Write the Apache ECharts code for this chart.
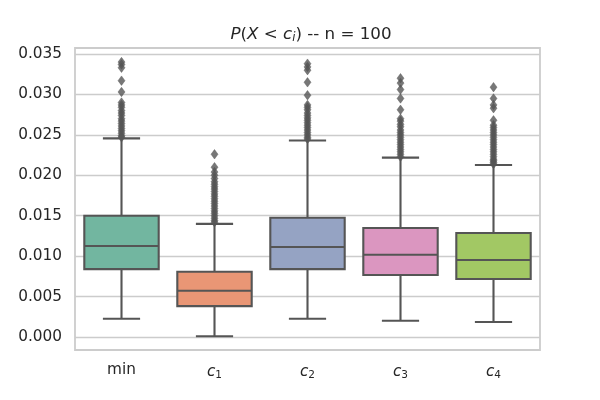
<!DOCTYPE html>
<html><head><meta charset="utf-8">
<script src="https://cdn.jsdelivr.net/npm/echarts@6/dist/echarts.min.js"></script>
<style>html,body{margin:0;padding:0;background:#fff}#c{width:600px;height:400px}</style>
</head><body><div id="c"></div>
<script>
const categories = ['min', 'c1', 'c2', 'c3', 'c4'];
const categoryLabels = ['min', '{i|c}{s|1}', '{i|c}{s|2}', '{i|c}{s|3}', '{i|c}{s|4}'];
const lowerWhisker = [0.00226, 0.00010, 0.00226, 0.00202, 0.00186];
const q1 = [0.00840, 0.00383, 0.00840, 0.00767, 0.00717];
const median = [0.01125, 0.00573, 0.01113, 0.01018, 0.00952];
const q3 = [0.01500, 0.00808, 0.01476, 0.01348, 0.01286];
const upperWhisker = [0.02457, 0.01400, 0.02430, 0.02218, 0.02127];
const boxColors = ['#72b6a0', '#e99675', '#95a3c3', '#db96c0', '#a2c864'];
const outliersMin = [0.0340, 0.0337, 0.0333, 0.0317, 0.0303, 0.0290, 0.0287, 0.0284, 0.0280, 0.0277, 0.0274, 0.0270, 0.0267, 0.0264, 0.0261, 0.0258, 0.0255, 0.0252, 0.0249, 0.0247];
const outliersC1 = [0.0226, 0.0210, 0.0204, 0.0200, 0.0196, 0.0192, 0.0189, 0.0186, 0.0183, 0.0180, 0.0177, 0.0174, 0.0171, 0.0168, 0.0165, 0.0162, 0.0159, 0.0156, 0.0153, 0.0150, 0.0147, 0.0144, 0.0142];
const outliersC2 = [0.0338, 0.0334, 0.0330, 0.0315, 0.0299, 0.0287, 0.0284, 0.0281, 0.0277, 0.0274, 0.0271, 0.0268, 0.0265, 0.0262, 0.0259, 0.0256, 0.0253, 0.0250, 0.0247, 0.0245];
const outliersC3 = [0.0320, 0.0314, 0.0306, 0.0295, 0.0281, 0.0270, 0.0267, 0.0263, 0.0260, 0.0256, 0.0253, 0.0250, 0.0247, 0.0244, 0.0241, 0.0238, 0.0235, 0.0232, 0.0229, 0.0226, 0.0223];
const outliersC4 = [0.0309, 0.0295, 0.0287, 0.0283, 0.0268, 0.0262, 0.0259, 0.0256, 0.0253, 0.0250, 0.0247, 0.0244, 0.0241, 0.0238, 0.0235, 0.0232, 0.0229, 0.0226, 0.0223, 0.0220, 0.0218, 0.0216, 0.0214];
const yTicks = [0.000, 0.005, 0.010, 0.015, 0.020, 0.025, 0.030, 0.035];

const outlierSets = [outliersMin, outliersC1, outliersC2, outliersC3, outliersC4];
const boxData = categories.map((c, i) => [i, lowerWhisker[i], q1[i], median[i], q3[i], upperWhisker[i]]);
const outlierData = [];
outlierSets.forEach((arr, i) => arr.forEach(v => outlierData.push([i, v])));

const LINE = '#555555';
const chart = echarts.init(document.getElementById('c'));
chart.setOption({
  backgroundColor: '#ffffff',
  animation: false,
  title: {
    text: '{i|P}({i|X} < {i|c}{s|i}) -- n = 100',
    left: 306, top: 20, textAlign: 'center',
    textStyle: {
      fontFamily: 'DejaVu Sans', fontSize: 16.7, fontWeight: 'normal', color: '#262626',
      rich: {
        i: {fontFamily: 'DejaVu Sans', fontStyle: 'italic', fontSize: 16.7, color: '#262626'},
        s: {fontFamily: 'DejaVu Sans', fontStyle: 'italic', fontSize: 11.5, color: '#262626', padding: [7, 0, 0, 0]}
      }
    }
  },
  grid: {left: 75, right: 60, top: 48, bottom: 50, show: true, borderColor: '#cccccc', borderWidth: 1.8, backgroundColor: '#ffffff'},
  xAxis: {
    type: 'category', data: categories, boundaryGap: true,
    axisLine: {show: false}, axisTick: {show: false}, splitLine: {show: false},
    axisLabel: {
      interval: 0, margin: 13, color: '#262626', fontFamily: 'DejaVu Sans', fontSize: 15.3,
      formatter: (v, idx) => categoryLabels[idx],
      rich: {
        i: {fontFamily: 'DejaVu Sans', fontStyle: 'italic', fontSize: 15.3, color: '#262626'},
        s: {fontFamily: 'DejaVu Sans', fontSize: 10.5, color: '#262626', padding: [7, 0, 0, 0]}
      }
    }
  },
  yAxis: {
    type: 'value', min: -0.0016, max: 0.03574,
    axisLine: {show: false},
    axisTick: {show: false, customValues: yTicks},
    axisLabel: {customValues: yTicks, margin: 13, color: '#262626', fontFamily: 'DejaVu Sans', fontSize: 15.3,
      formatter: v => v.toFixed(3)},
    splitLine: {show: true, lineStyle: {color: '#cccccc', width: 1.3}}
  },
  series: [
    {
      type: 'custom',
      data: boxData,
      z: 3,
      renderItem: function (params, api) {
        const i = api.value(0);
        const band = api.size([1, 0])[0];
        const hw = band * 0.4, cw = band * 0.2;
        const pLo = api.coord([i, api.value(1)]);
        const pQ1 = api.coord([i, api.value(2)]);
        const pMed = api.coord([i, api.value(3)]);
        const pQ3 = api.coord([i, api.value(4)]);
        const pHi = api.coord([i, api.value(5)]);
        const x = pLo[0];
        const ls = {stroke: LINE, lineWidth: 2.1, fill: null};
        return {
          type: 'group',
          children: [
            {type: 'line', shape: {x1: x, y1: pQ1[1], x2: x, y2: pLo[1]}, style: ls},
            {type: 'line', shape: {x1: x, y1: pQ3[1], x2: x, y2: pHi[1]}, style: ls},
            {type: 'line', shape: {x1: x - cw, y1: pLo[1], x2: x + cw, y2: pLo[1]}, style: ls},
            {type: 'line', shape: {x1: x - cw, y1: pHi[1], x2: x + cw, y2: pHi[1]}, style: ls},
            {type: 'rect', shape: {x: x - hw, y: pQ3[1], width: 2 * hw, height: pQ1[1] - pQ3[1]},
              style: {fill: boxColors[i], stroke: LINE, lineWidth: 2.1}},
            {type: 'line', shape: {x1: x - hw, y1: pMed[1], x2: x + hw, y2: pMed[1]}, style: ls}
          ]
        };
      }
    },
    {
      type: 'scatter',
      data: outlierData,
      symbol: 'diamond',
      symbolSize: [7, 9.5],
      itemStyle: {color: LINE, borderColor: LINE, borderWidth: 0.5},
      z: 4
    }
  ]
});
</script>
</body></html>
